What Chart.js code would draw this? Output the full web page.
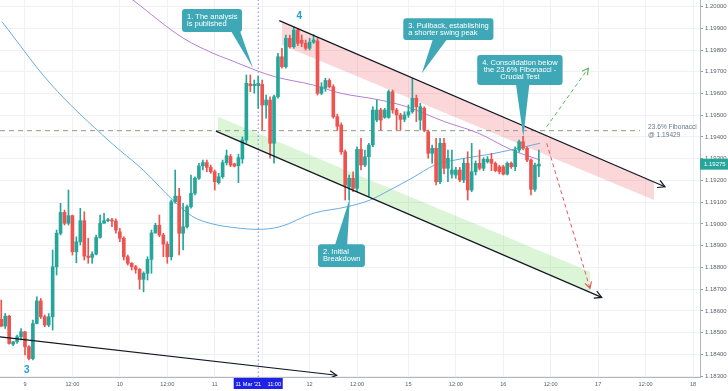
<!DOCTYPE html>
<html lang="en">
<head>
    <meta charset="UTF-8">
    <title>EURUSD 1H - Channel analysis</title>
    <script src="https://cdn.jsdelivr.net/npm/chart.js@4.4.1/dist/chart.umd.min.js"></script>
    <style>
        body { margin: 0; background: #ffffff; }
        #wrap { width: 728px; height: 391px; }
    </style>
</head>
<body>
    <div id="wrap"><canvas id="priceChart" width="728" height="391"></canvas></div>

    <script>
        // Hourly candles, first one at 8 Mar 18:00 (hour 0 = 9 Mar 00:00, weekend collapsed)
        const firstHour = -6;
        const opens = [
            1.18561, 1.18530, 1.18576, 1.18447, 1.18458, 1.18481, 1.18504, 1.18435, 1.18381, 1.18542,
            1.18646, 1.18573, 1.18535, 1.18573, 1.18803, 1.18957, 1.19053, 1.19003, 1.19038, 1.18872,
            1.18918, 1.19015, 1.18852, 1.18846, 1.18861, 1.18938, 1.19003, 1.19015, 1.19018, 1.19013,
            1.18964, 1.18934, 1.18849, 1.18819, 1.18803, 1.18791, 1.18745, 1.18773, 1.18837, 1.18959,
            1.18994, 1.18949, 1.18907, 1.18849, 1.19102, 1.19128, 1.18957, 1.18987, 1.19079, 1.19141,
            1.19210, 1.19267, 1.19282, 1.19260, 1.19240, 1.19190, 1.19217, 1.19282, 1.19310, 1.19276,
            1.19268, 1.19299, 1.19386, 1.19644, 1.19636, 1.19636, 1.19642, 1.19547, 1.19570, 1.19371,
            1.19585, 1.19769, 1.19723, 1.19854, 1.19815, 1.19892, 1.19845, 1.19831, 1.19808, 1.19836,
            1.19842, 1.19601, 1.19625, 1.19660, 1.19631, 1.19493, 1.19455, 1.19332, 1.19171, 1.19210,
            1.19164, 1.19343, 1.19271, 1.19309, 1.19363, 1.19478, 1.19524, 1.19490, 1.19490, 1.19608,
            1.19524, 1.19501, 1.19481, 1.19501, 1.19516, 1.19578, 1.19478, 1.19532, 1.19424, 1.19325,
            1.19348, 1.19194, 1.19371, 1.19256, 1.19229, 1.19225, 1.19248, 1.19202, 1.19279, 1.19156,
            1.19240, 1.19279, 1.19256, 1.19286, 1.19297, 1.19279, 1.19263, 1.19263, 1.19229, 1.19279,
            1.19263, 1.19340, 1.19378, 1.19348, 1.19294, 1.19159, 1.19266
        ];
        const highs = [
            1.18650, 1.18588, 1.18580, 1.18460, 1.18489, 1.18519, 1.18506, 1.18440, 1.18558, 1.18665,
            1.18657, 1.18581, 1.18588, 1.18880, 1.18972, 1.19095, 1.19064, 1.19156, 1.19041, 1.18941,
            1.19072, 1.19056, 1.18934, 1.18872, 1.18949, 1.19041, 1.19049, 1.19026, 1.19026, 1.19024,
            1.18980, 1.18941, 1.18857, 1.18822, 1.18810, 1.18795, 1.18780, 1.18849, 1.18972, 1.19003,
            1.19041, 1.18957, 1.18918, 1.19110, 1.19248, 1.19164, 1.19095, 1.19087, 1.19225, 1.19217,
            1.19279, 1.19294, 1.19294, 1.19271, 1.19248, 1.19233, 1.19294, 1.19340, 1.19320, 1.19280,
            1.19320, 1.19400, 1.19685, 1.19685, 1.19662, 1.19680, 1.19662, 1.19593, 1.19585, 1.19593,
            1.19785, 1.19808, 1.19869, 1.19869, 1.19907, 1.19900, 1.19869, 1.19846, 1.19854, 1.19870,
            1.19854, 1.19650, 1.19670, 1.19668, 1.19640, 1.19505, 1.19465, 1.19340, 1.19225, 1.19240,
            1.19355, 1.19394, 1.19340, 1.19371, 1.19539, 1.19570, 1.19532, 1.19532, 1.19616, 1.19616,
            1.19532, 1.19509, 1.19516, 1.19547, 1.19670, 1.19593, 1.19555, 1.19539, 1.19432, 1.19363,
            1.19394, 1.19394, 1.19394, 1.19340, 1.19340, 1.19260, 1.19260, 1.19300, 1.19332, 1.19371,
            1.19290, 1.19340, 1.19305, 1.19310, 1.19325, 1.19285, 1.19270, 1.19270, 1.19285, 1.19285,
            1.19355, 1.19386, 1.19403, 1.19355, 1.19300, 1.19280, 1.19340
        ];
        const lows = [
            1.18527, 1.18519, 1.18447, 1.18440, 1.18450, 1.18466, 1.18397, 1.18374, 1.18374, 1.18540,
            1.18565, 1.18527, 1.18527, 1.18512, 1.18765, 1.18949, 1.18995, 1.18995, 1.18857, 1.18821,
            1.18903, 1.18834, 1.18819, 1.18819, 1.18857, 1.18934, 1.19003, 1.19010, 1.18987, 1.18957,
            1.18918, 1.18834, 1.18811, 1.18788, 1.18773, 1.18700, 1.18688, 1.18742, 1.18773, 1.18957,
            1.18941, 1.18849, 1.18819, 1.18834, 1.19095, 1.18857, 1.18880, 1.18980, 1.19072, 1.19133,
            1.19205, 1.19248, 1.19240, 1.19233, 1.19156, 1.19183, 1.19210, 1.19271, 1.19263, 1.19262,
            1.19190, 1.19279, 1.19371, 1.19608, 1.19601, 1.19532, 1.19432, 1.19486, 1.19302, 1.19279,
            1.19578, 1.19716, 1.19716, 1.19808, 1.19808, 1.19820, 1.19815, 1.19800, 1.19800, 1.19830,
            1.19593, 1.19595, 1.19610, 1.19625, 1.19486, 1.19432, 1.19320, 1.19110, 1.19110, 1.19148,
            1.19148, 1.19248, 1.19263, 1.19125, 1.19355, 1.19470, 1.19432, 1.19486, 1.19486, 1.19509,
            1.19432, 1.19432, 1.19470, 1.19490, 1.19509, 1.19470, 1.19432, 1.19424, 1.19302, 1.19279,
            1.19179, 1.19185, 1.19230, 1.19194, 1.19210, 1.19210, 1.19194, 1.19190, 1.19110, 1.19148,
            1.19225, 1.19248, 1.19245, 1.19280, 1.19245, 1.19240, 1.19230, 1.19225, 1.19225, 1.19255,
            1.19245, 1.19330, 1.19340, 1.19286, 1.19133, 1.19150, 1.19217
        ];
        const closes = [
            1.18530, 1.18576, 1.18450, 1.18458, 1.18481, 1.18504, 1.18435, 1.18381, 1.18542, 1.18646,
            1.18573, 1.18535, 1.18573, 1.18803, 1.18957, 1.19053, 1.19003, 1.19038, 1.18872, 1.18918,
            1.19015, 1.18852, 1.18846, 1.18861, 1.18938, 1.19003, 1.19015, 1.19018, 1.19013, 1.18972,
            1.18934, 1.18849, 1.18819, 1.18803, 1.18791, 1.18745, 1.18773, 1.18837, 1.18959, 1.18994,
            1.18949, 1.18907, 1.18849, 1.19102, 1.19128, 1.18957, 1.18987, 1.19079, 1.19141, 1.19210,
            1.19267, 1.19282, 1.19260, 1.19240, 1.19194, 1.19217, 1.19282, 1.19314, 1.19271, 1.19266,
            1.19305, 1.19386, 1.19647, 1.19636, 1.19642, 1.19647, 1.19547, 1.19570, 1.19371, 1.19585,
            1.19769, 1.19723, 1.19854, 1.19815, 1.19892, 1.19831, 1.19831, 1.19808, 1.19836, 1.19846,
            1.19601, 1.19630, 1.19660, 1.19631, 1.19493, 1.19449, 1.19332, 1.19179, 1.19210, 1.19164,
            1.19343, 1.19271, 1.19309, 1.19363, 1.19524, 1.19524, 1.19478, 1.19524, 1.19608, 1.19524,
            1.19501, 1.19481, 1.19501, 1.19516, 1.19578, 1.19539, 1.19539, 1.19432, 1.19325, 1.19348,
            1.19194, 1.19371, 1.19256, 1.19302, 1.19248, 1.19248, 1.19202, 1.19279, 1.19156, 1.19240,
            1.19279, 1.19256, 1.19297, 1.19297, 1.19279, 1.19245, 1.19240, 1.19229, 1.19279, 1.19263,
            1.19340, 1.19378, 1.19348, 1.19294, 1.19159, 1.19271, 1.19275
        ];

        // Moving averages (hour, price)
        const maSlowHours = [19, 27.3, 40, 48.6, 51.9, 58.2, 63.2, 72.9, 79.7, 89.8, 96.6, 106.2, 114.6, 123.2, 130.3];
        const maSlowValues = [1.20145, 1.20030, 1.19855, 1.19777, 1.19754, 1.19708, 1.19677, 1.19639, 1.19602, 1.19570, 1.19539, 1.19470, 1.19418, 1.19340, 1.19294];
        const maFastHours = [-5.8, 6.3, 21.5, 29.9, 37.4, 42.5, 46.8, 54.4, 58.7, 64.5, 72.9, 81.5, 87.3, 92.3, 97.9, 103.7, 108.8, 118.9, 130.3];
        const maFastValues = [1.19930, 1.19648, 1.19378, 1.19248, 1.19110, 1.19033, 1.19003, 1.18980, 1.18975, 1.18987, 1.19049, 1.19079, 1.19110, 1.19156, 1.19211, 1.19271, 1.19294, 1.19325, 1.19371];

        // Axis ticks
        const xTickHours = [0, 12, 24, 36, 48, 60, 72, 84, 97, 109, 121, 133, 145, 157, 169];
        const xTickLabels = ['9', '12:00', '10', '12:00', '11', '12:00', '12', '12:00', '15', '12:00', '16', '12:00', '17', '12:00', '18'];
        const yTicks = [1.183, 1.184, 1.185, 1.186, 1.187, 1.188, 1.189, 1.190, 1.191, 1.192, 1.193, 1.194, 1.195, 1.196, 1.197, 1.198, 1.199, 1.200];
        const xMin = -6.32, xMax = 170.76;
        const yMin = 1.18296, yMax = 1.20030;

        // Drawing tools (hour, price pairs)
        const fibLevel = 1.19429;
        const fibHours = [-6.32, 155.6];
        const analysisHour = 59;
        const lastPrice = 1.19275;
        const upperLineHours = [64.33, 161.9], upperLinePrices = [1.19935, 1.19171];
        const lowerLineHours = [48.3, 145.9], lowerLinePrices = [1.19427, 1.18662];
        const baseLineHours = [-6.32, 78.85], baseLinePrices = [1.18481, 1.18304];
        const redBandHours = [65.0, 159.1], redBandTop = [1.19930, 1.19193], redBandBottom = [1.19823, 1.19110];
        const greenBandHours = [48.82, 142.93], greenBandTop = [1.19493, 1.18780], greenBandBottom = [1.19423, 1.18686];
        const upPathHours = [131.98, 142.5], upPathPrices = [1.19447, 1.19716];
        const downPathHours = [131.98, 142.93], downPathPrices = [1.19371, 1.18704];

        const callouts = [
            { lines: ['1. The analysis', 'is published'], box: [39.72, 1.19989, 54.9, 1.19883], base: [52.1, 54.4], tip: [57.68, 1.19717], align: 'left' },
            { lines: ['2. Initial', 'Breakdown'], box: [74.12, 1.18907, 86.0, 1.18802], base: [78.4, 81.5], tip: [82.2, 1.19119], align: 'left' },
            { lines: ['3. Pullback, establishing', 'a shorter swing peak'], box: [95.7, 1.19946, 118.5, 1.19846], base: [103.2, 106.8], tip: [100.4, 1.19693], align: 'left' },
            { lines: ['4. Consolidation below', 'the 23.6% Fibonacci -', 'Crucial Test'], box: [114.4, 1.19777, 136.0, 1.19639], base: [124.2, 127.6], tip: [126.06, 1.19401], align: 'center' }
        ];
        const waveLabels = [
            { text: '3', hour: 0.43, price: 1.18329 },
            { text: '4', hour: 69.4, price: 1.19953 }
        ];

        const UP = '#26a69a', DOWN = '#ef5350';
        const candleColors = opens.map((o, i) => closes[i] >= o ? UP : DOWN);

        function pts(hs, ps) {
            return hs.map((h, i) => ({ x: h, y: ps[i] }));
        }

        function line(data, color, width, extra) {
            return Object.assign({
                type: 'line', data: data, borderColor: color, borderWidth: width,
                pointRadius: 0, fill: false, order: 0
            }, extra || {});
        }

        function arrowHead(ctx, x0, y0, x1, y1, color, size) {
            const a = Math.atan2(y1 - y0, x1 - x0);
            ctx.strokeStyle = color;
            ctx.setLineDash([]);
            ctx.lineWidth = 1.2;
            ctx.beginPath();
            ctx.moveTo(x1 - size * Math.cos(a - 0.5), y1 - size * Math.sin(a - 0.5));
            ctx.lineTo(x1, y1);
            ctx.lineTo(x1 - size * Math.cos(a + 0.5), y1 - size * Math.sin(a + 0.5));
            ctx.stroke();
        }

        // Arrows, callouts and labels drawn on top of the chart
        const annotations = {
            id: 'annotations',
            afterDatasetsDraw(chart) {
                const { ctx, chartArea: area } = chart;
                const xs = chart.scales.x, ys = chart.scales.y;
                const px = h => xs.getPixelForValue(h), py = p => ys.getPixelForValue(p);

                ctx.save();
                ctx.beginPath();
                ctx.rect(area.left, area.top, area.right - area.left, area.bottom - area.top);
                ctx.clip();

                arrowHead(ctx, px(upperLineHours[0]), py(upperLinePrices[0]), px(upperLineHours[1]), py(upperLinePrices[1]), '#131722', 8);
                arrowHead(ctx, px(lowerLineHours[0]), py(lowerLinePrices[0]), px(lowerLineHours[1]), py(lowerLinePrices[1]), '#131722', 8);
                arrowHead(ctx, px(baseLineHours[0]), py(baseLinePrices[0]), px(baseLineHours[1]), py(baseLinePrices[1]), '#131722', 8);
                arrowHead(ctx, px(upPathHours[0]), py(upPathPrices[0]), px(upPathHours[1]), py(upPathPrices[1]), '#5cb85c', 7);
                arrowHead(ctx, px(downPathHours[0]), py(downPathPrices[0]), px(downPathHours[1]), py(downPathPrices[1]), '#e25c5c', 7);

                // Callouts
                callouts.forEach(c => {
                    const l = px(c.box[0]), t = py(c.box[1]), r = px(c.box[2]), b = py(c.box[3]);
                    const tx = px(c.tip[0]), ty = py(c.tip[1]);
                    ctx.fillStyle = '#3ea8b6';
                    ctx.beginPath();
                    ctx.roundRect(l, t, r - l, b - t, 3);
                    ctx.fill();
                    const edge = ty > b ? b - 1 : t + 1;
                    ctx.beginPath();
                    ctx.moveTo(px(c.base[0]), edge);
                    ctx.lineTo(tx, ty);
                    ctx.lineTo(px(c.base[1]), edge);
                    ctx.closePath();
                    ctx.fill();

                    ctx.fillStyle = '#ffffff';
                    ctx.font = '7.5px "Liberation Sans", Arial, sans-serif';
                    ctx.textBaseline = 'middle';
                    ctx.textAlign = c.align;
                    const lh = 7;
                    const y0 = (t + b) / 2 - (c.lines.length - 1) * lh / 2;
                    const x0 = c.align === 'center' ? (l + r) / 2 : l + 5;
                    c.lines.forEach((s, i) => ctx.fillText(s, x0, y0 + i * lh));
                });

                // Wave numbers
                ctx.fillStyle = '#229fcb';
                ctx.font = 'bold 10px "Liberation Sans", Arial, sans-serif';
                ctx.textAlign = 'center';
                ctx.textBaseline = 'middle';
                waveLabels.forEach(w => ctx.fillText(w.text, px(w.hour), py(w.price)));

                // Fibonacci label
                ctx.fillStyle = '#66788a';
                ctx.font = '6.6px "Liberation Sans", Arial, sans-serif';
                ctx.textAlign = 'left';
                const fy = py(fibLevel);
                ctx.fillText('23.6% Fibonacci', px(fibHours[1]) + 8, fy - 3);
                ctx.fillText('@ ' + fibLevel.toFixed(5), px(fibHours[1]) + 8, fy + 4.5);
                ctx.restore();
            },
            afterDraw(chart) {
                const { ctx, chartArea: area } = chart;
                const xs = chart.scales.x, ys = chart.scales.y;
                ctx.save();
                // last price tag on the price axis
                const ly = ys.getPixelForValue(lastPrice);
                ctx.fillStyle = UP;
                ctx.fillRect(area.right, ly - 5.5, 28, 11);
                ctx.fillStyle = '#ffffff';
                ctx.font = '6px "Liberation Sans", Arial, sans-serif';
                ctx.textAlign = 'left';
                ctx.textBaseline = 'middle';
                ctx.fillText(lastPrice.toFixed(5), area.right + 4, ly + 0.5);

                // highlighted time on the time axis
                const ax = xs.getPixelForValue(analysisHour);
                ctx.fillStyle = '#1e22e6';
                ctx.fillRect(ax - 24.5, area.bottom + 1, 49, 11);
                ctx.fillStyle = '#ffffff';
                ctx.font = '5.6px "Liberation Sans", Arial, sans-serif';
                ctx.textAlign = 'center';
                ctx.fillText("11 Mar '21    11:00", ax, area.bottom + 7);
                ctx.restore();
            }
        };

        const ctx = document.getElementById('priceChart').getContext('2d');
        new Chart(ctx, {
            type: 'bar',
            data: {
                datasets: [
                    line(pts(upperLineHours, upperLinePrices), '#131722', 1.2),
                    line(pts(lowerLineHours, lowerLinePrices), '#131722', 1.2),
                    line(pts(baseLineHours, baseLinePrices), '#131722', 1.2),
                    line(pts(upPathHours, upPathPrices), '#5cb85c', 1, { borderDash: [4, 3] }),
                    line(pts(downPathHours, downPathPrices), '#e25c5c', 1, { borderDash: [4, 3] }),
                    {
                        type: 'bar', data: opens.map((o, i) => ({ x: firstHour + i, y: [o, closes[i]] })),
                        backgroundColor: candleColors, barThickness: 3, minBarLength: 1, grouped: false, order: 1
                    },
                    {
                        type: 'bar', data: lows.map((l, i) => ({ x: firstHour + i, y: [l, highs[i]] })),
                        backgroundColor: candleColors, barThickness: 1, grouped: false, order: 2
                    },
                    line(pts(maSlowHours, maSlowValues), '#b77fd1', 1, { order: 3, cubicInterpolationMode: 'monotone' }),
                    line(pts(maFastHours, maFastValues), '#69acdf', 1, { order: 3, cubicInterpolationMode: 'monotone' }),
                    line(pts(fibHours, [fibLevel, fibLevel]), '#8d9a86', 1, { order: 4, borderDash: [5, 4] }),
                    line([{ x: analysisHour, y: yMin }, { x: analysisHour, y: yMax }], '#7d7de8', 1, { order: 4, borderDash: [1.5, 2.5] }),
                    line(pts(redBandHours, redBandTop), 'rgba(0,0,0,0)', 0, { order: 5, fill: '+1', backgroundColor: 'rgba(242,54,69,0.2)' }),
                    line(pts(redBandHours, redBandBottom), 'rgba(0,0,0,0)', 0, { order: 5 }),
                    line(pts(greenBandHours, greenBandTop), 'rgba(0,0,0,0)', 0, { order: 5, fill: '+1', backgroundColor: 'rgba(110,215,90,0.25)' }),
                    line(pts(greenBandHours, greenBandBottom), 'rgba(0,0,0,0)', 0, { order: 5 })
                ]
            },
            options: {
                responsive: false,
                animation: false,
                layout: { padding: 0 },
                plugins: { legend: { display: false }, tooltip: { enabled: false } },
                scales: {
                    x: {
                        type: 'linear', min: xMin, max: xMax, offset: false,
                        grid: { color: '#eff1f5', drawTicks: false, offset: false },
                        border: { color: '#b2b5be' },
                        ticks: {
                            autoSkip: false, maxRotation: 0, padding: 4, color: '#5d606b',
                            font: { size: 5.6, family: '"Liberation Sans", Arial, sans-serif' },
                            callback: (v, i) => xTickLabels[i]
                        },
                        afterBuildTicks: s => { s.ticks = xTickHours.map(v => ({ value: v })); },
                        afterFit: s => { s.height = 14; s.paddingLeft = 0; s.paddingRight = 0; }
                    },
                    y: {
                        type: 'linear', position: 'right', min: yMin, max: yMax,
                        grid: { color: '#eff1f5', tickLength: 3, tickColor: '#9598a1' },
                        border: { color: '#b2b5be' },
                        ticks: {
                            padding: 2, color: '#5d606b',
                            font: { size: 6, family: '"Liberation Sans", Arial, sans-serif' },
                            callback: v => v.toFixed(5)
                        },
                        afterBuildTicks: s => { s.ticks = yTicks.map(v => ({ value: v })); },
                        afterFit: s => { s.width = 28; s.paddingTop = 0; s.paddingBottom = 0; }
                    }
                }
            },
            plugins: [annotations]
        });
    </script>
</body>
</html>
